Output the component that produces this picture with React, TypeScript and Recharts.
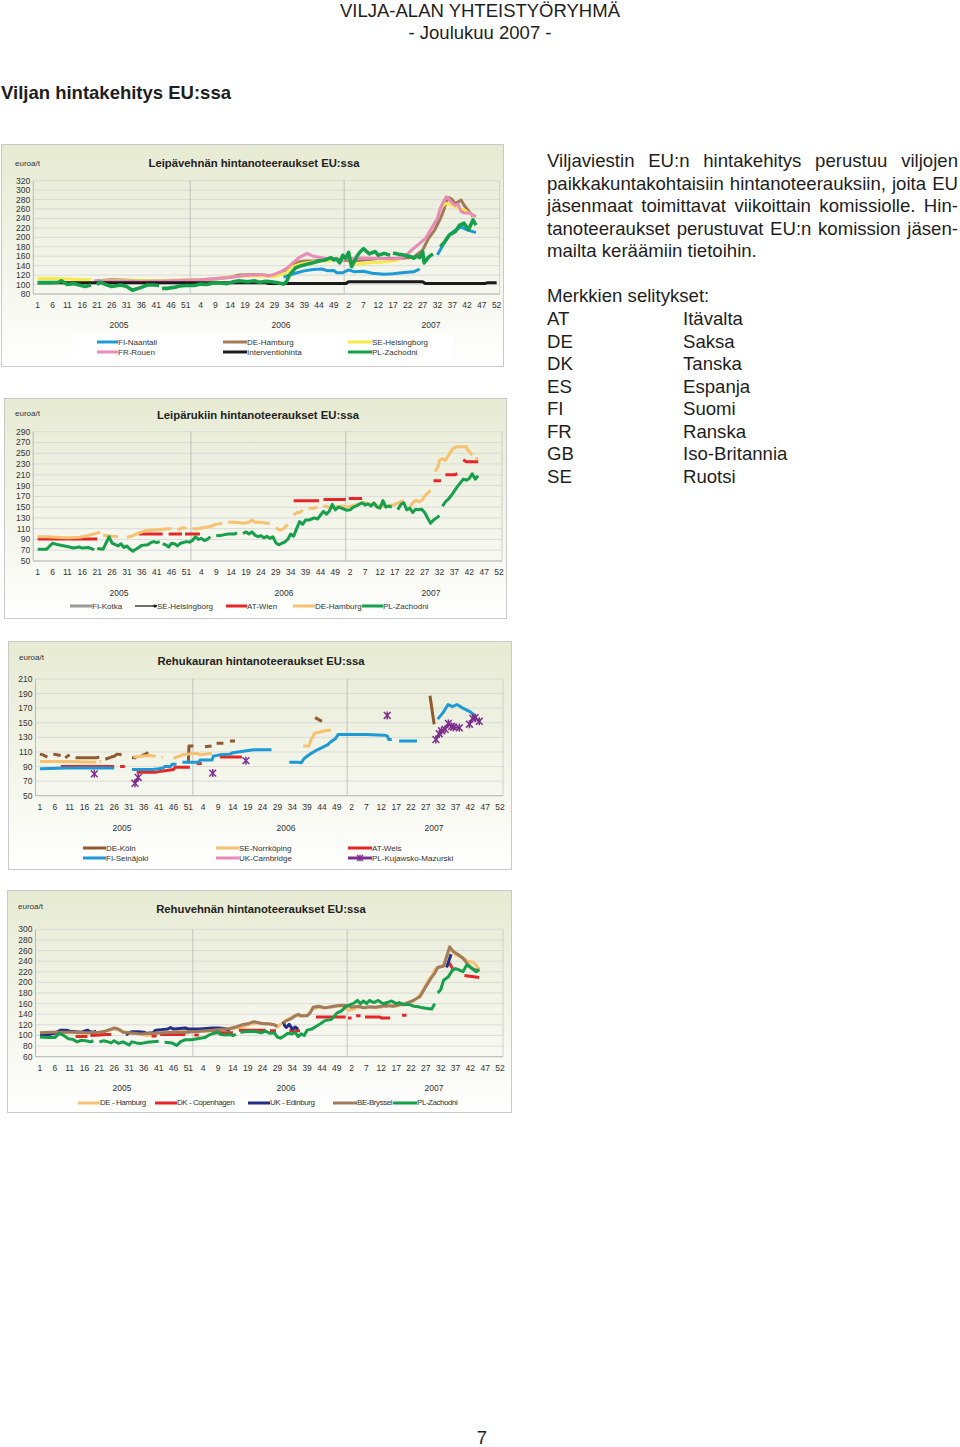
import React from "react";
import { LineChart, Line, XAxis, YAxis, CartesianGrid, ReferenceLine } from "recharts";

type Pt = [number, number | null];

// x = week index: 0 = week 1 / 2005 ... 155 = week 52 / 2007
const tickPos = [0, 5, 10, 15, 20, 25, 30, 35, 40, 45, 50, 55, 60, 65, 70, 75, 80, 85, 90, 95, 100, 105, 110, 115, 120, 125, 130, 135, 140, 145, 150, 155];
const weekLabels = [1, 6, 11, 16, 21, 26, 31, 36, 41, 46, 51, 4, 9, 14, 19, 24, 29, 34, 39, 44, 49, 2, 7, 12, 17, 22, 27, 32, 37, 42, 47, 52];
const yearLabels = ["2005", "2006", "2007"];
const yearBreaks = [51.5, 103.5];

const c1Ticks = [80, 100, 120, 140, 160, 180, 200, 220, 240, 260, 280, 300, 320];
const c2Ticks = [50, 70, 90, 110, 130, 150, 170, 190, 210, 230, 250, 270, 290];
const c3Ticks = [50, 70, 90, 110, 130, 150, 170, 190, 210];
const c4Ticks = [60, 80, 100, 120, 140, 160, 180, 200, 220, 240, 260, 280, 300];

// --- Leipävehnä ---
const c1Naantali: Pt[] = [[83, 116], [85, 120], [87, 124], [90, 129], [93, 132], [96, 133], [98, 129], [100, 130], [101, 125], [103, 125], [105, 131], [107, 127], [110, 128], [113, 124], [117, 122], [120, 123], [123, 125], [127, 127], [129, 133], [130, null], [135, 163], [137, 185], [139, 205], [141, 215], [143, 222], [145, 216], [147, 212], [148, 210]];
const c1Hamburg: Pt[] = [[20, 108], [25, 110], [30, 109], [35, 108], [40, 108], [45, 108], [50, 109], [55, 110], [60, 112], [65, 116], [68, 120], [72, 121], [76, 120], [80, 118], [82, 122], [84, 128], [86, 140], [88, 148], [90, 150], [93, 150], [96, 152], [100, 155], [103, 152], [106, 150], [110, 152], [115, 155], [120, 155], [124, 156], [127, 158], [130, 173], [132, 198], [134, 215], [136, 240], [137, 255], [138, 275], [139, 284], [140, 280], [141, 272], [142, 275], [143, 279], [144, 268], [145, 260], [147, 244]];
const c1Helsingborg: Pt[] = [[0, 113], [5, 113], [10, 112], [15, 110], [18, 110], [19, null], [21, 108], [30, 108], [40, 108], [50, 110], [55, 110], [60, 113], [65, 116], [70, 118], [75, 118], [80, 117], [84, 125], [86, 138], [88, 142], [90, 145], [93, 148], [96, 150], [99, 150], [100, null], [105, 148], [108, 143], [112, 146], [116, 147], [120, 150], [122, 152], [123, null], [136, 262], [137, 268], [138, 272], [140, 268], [142, 262], [144, 258], [146, 250], [148, 244]];
const c1Rouen: Pt[] = [[19, 108], [25, 107], [30, 107], [35, 106], [40, 107], [45, 108], [50, 109], [55, 110], [60, 113], [65, 115], [70, 119], [73, 120], [76, 121], [78, 118], [80, 122], [82, 127], [84, 134], [86, 145], [88, 156], [90, 163], [91, 166], [93, 160], [95, 158], [97, 156], [100, 154], [102, 152], [105, 155], [110, 156], [115, 155], [120, 154], [123, 157], [125, 165], [127, 177], [129, 187], [131, 198], [133, 219], [135, 240], [136, 262], [137, 275], [138, 286], [139, 280], [140, 272], [141, 268], [142, 270], [143, 255], [144, 252], [146, 251], [148, 244]];
const c1Intervention: Pt[] = [[0, 104], [77, 104], [78, 102], [104, 102], [105, 106], [130, 106], [131, 102], [151, 102], [152, 104], [155, 104]];
const c1Zachodni: Pt[] = [[0, 104], [4, 104], [7, 105], [8, 108], [10, 100], [12, 102], [14, 99], [16, 96], [18, 99], [19, null], [20, 100], [21, 105], [23, 100], [25, 96], [28, 99], [30, 96], [32, 88], [33, 90], [35, 94], [37, 99], [39, 99], [41, 98], [41.5, null], [42, 92], [44, 92], [46, 94], [48, 97], [50, 98], [53, 98], [55, 101], [57, 100], [59, 103], [61, 104], [64, 102], [66, 106], [68, 108], [71, 106], [73, 108], [75, 105], [77, 107], [79, 106], [81, 104], [83, 101], [84, 106], [85, 120], [87, 135], [89, 140], [91, 143], [93, 146], [95, 150], [97, 152], [99, 157], [100, 152], [101, 154], [102, 146], [103, 162], [104, 156], [105, 168], [106, 138], [108, 162], [109, 170], [110, 176], [112, 165], [114, 170], [115, 162], [117, 166], [119, 162], [119.5, null], [120, 167], [122, 164], [124, 162], [126, 159], [127, 156], [128, 160], [129, 157], [130, 170], [130.5, 146], [132, 158], [133.5, 165], [134, null], [136, 180], [137.5, 191], [139, 205], [141, 212], [142.5, 226], [144, 230], [145.5, 216], [147, 237], [148, 226]];

// --- Leipäruis ---
const c2Wien: Pt[] = [[0, 91], [20, 91], [21, null], [34, 100], [42, 100], [42.5, null], [44, 100], [48.5, 100], [49, null], [49.5, 100], [54.5, 100], [55, null], [86, 162], [94.5, 162], [95, null], [96, 164], [103.5, 164], [104, null], [104.5, 166], [109, 166], [110, null], [133, 199], [135.5, 199], [136, null], [137, 210], [140, 210], [141, 212], [141.5, null], [143, 238], [144, 234], [148, 234]];
const c2Hamburg: Pt[] = [[0, 95], [3, 95], [6, 94], [10, 93], [14, 94], [16, 96], [18, 99], [20, 102], [21, 103], [21.5, null], [22, 98], [25, 96], [27, 95], [27.5, null], [30, 94], [32, 97], [34, 102], [36, 106], [38, 107], [40, 108], [42, 109], [44, 110], [45, 110], [45.5, null], [47, 108], [49, 112], [50, 110], [50.5, null], [52, 110], [54, 110], [56, 112], [58, 114], [60, 118], [62, 120], [62.5, null], [64, 122], [66, 122], [68, 121], [69, 120], [71, 122], [72, 126], [73, 122], [75, 122], [77, 120], [78, 120], [78.5, null], [80, 112], [81, 108], [82, 108], [83, 112], [84, 118], [84.5, null], [86, 135], [87, 140], [88, 140], [89, 145], [89.5, null], [91, 148], [93, 148], [94, 150], [94.5, null], [96, 152], [98, 150], [100, 150], [102, 152], [104, 150], [106, 153], [108, 156], [110, 158], [112, 155], [114, 153], [116, 152], [118, 152], [120, 155], [122, 160], [123, 162], [123.5, null], [125, 150], [126, 158], [127, 163], [128, 160], [129, 162], [130, 170], [131, 176], [132, 181], [132.5, null], [133.5, 216], [134.5, 225], [135, 237], [136, 240], [137, 237], [138.5, 250], [139.5, 259], [141, 262], [144, 262], [144.5, 256], [146, 247], [146.5, null], [147, 240], [148, 240]];
const c2Zachodni: Pt[] = [[0, 72], [3, 72], [5, 83], [7, 80], [9, 78], [10, 77], [12, 74], [14, 76], [15, 74], [17, 75], [19, 71], [19.5, null], [20, 73], [22, 72], [24, 95], [25, 83], [27, 78], [28, 82], [29, 75], [30, 78], [31, 72], [32, 68], [33, 72], [35, 79], [37, 80], [38, 84], [39, 86], [40, 84], [41, 86], [41.5, null], [42, 82], [43, 80], [44, 76], [45, 83], [46, 82], [47, 78], [48, 83], [50, 86], [51, 85], [52, 88], [53, 95], [54, 90], [55, 92], [56, 88], [57, 90], [58, 95], [58.5, null], [60, 97], [62, 98], [64, 100], [66, 100], [67, 102], [67.5, null], [69, 101], [70, 104], [71, 100], [72, 104], [73, 98], [74, 95], [75, 97], [76, 93], [77, 96], [78, 92], [79, 95], [80, 84], [81, 80], [82, 83], [83, 85], [84, 90], [85, 100], [86, 96], [87, 110], [88, 123], [89, 118], [90, 126], [91, 126], [92, 128], [93, 130], [94, 128], [95, 135], [96, 142], [97, 137], [98, 143], [99, 155], [100, 145], [101, 150], [102, 148], [103, 146], [104, 144], [105, 145], [106, 150], [107, 152], [108, 155], [109, 158], [110, 154], [111, 156], [112, 152], [113, 158], [114, 150], [115, 148], [116, 162], [117, 150], [118, 152], [119, 150], [119.5, null], [121, 145], [122, 155], [123, 158], [124, 145], [125, 148], [126, 140], [127, 146], [128, 145], [129, 146], [130, 140], [131, 130], [132, 120], [133, 126], [134, 130], [135, 134], [135.5, null], [136, 152], [137, 160], [138, 165], [139, 172], [140, 180], [141, 188], [142, 195], [143, 202], [144, 200], [145, 203], [146, 212], [147, 202], [148, 208]];

// --- Rehukaura ---
const c3Koln: Pt[] = [[0, 107], [1, 106], [2.5, 103], [3, null], [4.5, 107], [7, 105], [7.5, null], [8.5, 102], [10, 106], [10.5, null], [12, 102], [19, 102], [20, 103], [20.5, null], [22, 100], [24, 103], [25, 104], [26, 107], [27.5, 106], [28, null], [31, 102], [32.5, 102], [33, null], [34.3, 105], [35.5, 107], [36.5, 109], [37, null], [50, 96], [50.2, 118], [51.7, 118], [52, null], [55.6, 117], [57.8, 118], [58, null], [59.5, 122], [61.8, 122], [62, null], [64, 125], [65.7, 125], [66, null], [92.7, 157], [95, 152], [95.5, null], [131.4, 187], [132.8, 148]];
const c3Norrkoping: Pt[] = [[0, 97], [10, 97], [19, 96], [19.5, null], [20, 97], [20.6, 97], [21, null], [31.5, 103], [34, 104], [37, 105], [39, 104], [39.5, null], [41, 103], [41.4, 103], [41.8, null], [45, 101], [46, 103], [47, 104], [48, 106], [50, 107], [51, 108], [53, 108], [54, 106], [56, 107], [57, 108], [58, 108], [58.5, null], [60.5, 107], [63, 107], [63.5, null], [88.7, 118], [90.5, 118], [91.5, 128], [92.5, 136], [94, 137], [96, 139], [98, 140]];
const c3Wels: Pt[] = [[7, 90], [25, 90], [25.5, null], [27, 90], [28.6, 90], [29, null], [32.6, 82], [39, 82], [40, 83], [41.5, 84], [45, 86], [45.5, 89], [50.5, 89], [51, null], [52.8, 94], [54.5, 94], [55, null], [60.6, 103], [68, 103]];
const c3Seinajoki: Pt[] = [[0, 87], [9, 88], [25, 88], [25.5, null], [31, 86], [38, 86], [40, 87], [41.5, 88], [42, 90], [44, 90], [44.5, 93], [46, 93], [46.5, null], [48, 96], [53.5, 96], [54, 99], [58, 99], [58.4, 104], [60.6, 106], [64, 107], [65, 109], [68.5, 111], [72, 113], [78, 113], [78.5, null], [84, 96], [87, 96], [88, 95], [89, 101], [90, 104], [91, 107], [93, 112], [95, 116], [97, 120], [98, 124], [99.5, 128], [100.5, 134], [110, 134], [116, 133], [117, 132], [117.5, 127], [118.5, 127], [119, null], [121, 125], [127, 125], [127.5, null], [134, 155], [136, 165], [137.5, 175], [139, 172], [140.5, 175], [142.5, 170], [145, 165], [147, 158]];
const c3Cambridge: Pt[] = [];
const c3Kujawsko: Pt[] = [[18.3, 80], [18.5, null], [32, 67], [33.1, 75], [33.5, null], [58.2, 81], [58.5, null], [69.4, 98], [69.6, null], [117, 160], [117.2, null], [133.4, 127], [134.5, 135], [135.3, 139], [136.5, 141], [137.6, 149], [138.7, 145], [139.3, 144], [141.3, 143], [141.6, null], [144.7, 148], [145.8, 156], [146.6, 157], [148, 152]];

// --- Rehuvehnä ---
const c4Hamburg: Pt[] = [[0, 105], [5, 106], [10, 106], [15, 104], [20, 106], [23, 110], [25, 112], [27, 110], [30, 104], [33, 104], [36, 100], [38, 102], [40, 104], [44, 106], [48, 108], [52, 108], [56, 108], [60, 110], [64, 112], [68, 116], [70, 120], [73, 124], [76, 122], [79, 120], [80, 116], [82, 125], [84, 132], [86, 138], [88, 136], [90, 138], [92, 150], [94, 153], [96, 152], [98, 153], [100, 155], [102, 156], [104, 147], [106, 150], [108, 155], [110, 152], [112, 153], [114, 152], [116, 155], [118, 158], [120, 155], [122, 158], [124, 160], [126, 165], [128, 176], [130, 195], [131, 205], [132, 212], [133, 224], [134, 228], [136, 232], [137, 250], [138, 262], [139, 258], [140, 252], [141, 250], [142, 248], [143, 245], [144, 240], [146, 238], [147, 232], [148, 224]];
const c4Copenhagen: Pt[] = [[12, 98], [16, 98], [16.5, null], [17, 100], [20, 101], [22, 102], [24, 102], [24.5, null], [37.6, 99], [39.3, 99], [39.6, null], [40.5, 102], [49, 102], [49.5, null], [52, 101], [53.5, 101], [54, null], [58, 105], [65, 105], [65.5, null], [67, 110], [76, 110], [76.5, null], [77.5, 109], [79.5, 109], [80, null], [84, 109], [87.6, 109], [88, null], [93, 135], [103, 135], [103.5, null], [103.8, 133], [105, 133], [105.5, null], [106.5, 137], [108, 137], [108.5, null], [109.5, 135], [114.5, 135], [115, 133], [118, 133], [118.5, null], [122, 138], [123.5, 138], [124, null], [137.5, 240], [139, 226], [139.5, null], [143, 213], [148, 209]];
const c4Edinburg: Pt[] = [[0, 102], [3, 102], [5, 104], [7, 110], [9, 110], [10, 108], [12, 107], [14, 106], [15, 108], [16, 110], [17, 107], [18, 106], [19, 108], [20, null], [29, 101], [30, 105], [31, 107], [33, 107], [35, 106], [36, 104], [38, 105], [39, 110], [41, 111], [43, 112], [44, 115], [45, 112], [47, 113], [49, 114], [50, 112], [52, 112], [54, 112], [56, 113], [58, 114], [60, 114], [62, 113], [64, 110], [64.5, null], [82, 126], [82.5, 118], [83, 115], [84, 121], [85, 112], [86, 116], [87, 112], [87.5, null], [116, 158], [117, 155], [117.5, null], [137, 228], [138.5, 253]];
const c4Bryssel: Pt[] = [[0, 105], [4, 106], [8, 106], [12, 106], [16, 105], [20, 106], [22, 108], [24, 112], [25, 114], [26, 113], [27, 110], [28, 106], [30, 105], [34, 103], [38, 104], [42, 105], [46, 106], [50, 106], [54, 108], [58, 110], [62, 112], [64, 113], [66, 116], [68, 120], [70, 122], [72, 126], [73, 125], [75, 122], [77, 122], [79, 120], [80, 117], [81, null], [82, 124], [83, 128], [84, 130], [85, 133], [86, 137], [87, 140], [88, 137], [90, 137], [91, 142], [92, 153], [94, 155], [96, 152], [98, 154], [100, 156], [102, 157], [104, 156], [105, 153], [107, 155], [109, 152], [111, 154], [113, 153], [115, 155], [117, 156], [119, 155], [121, 158], [123, 160], [125, 164], [128, 173], [130, 192], [132, 210], [133, 217], [134, 228], [136, 231], [137, 248], [138, 267], [139.3, 258], [141, 252], [142.6, 245], [144.3, 233], [146, 225], [148, 222]];
const c4Zachodni: Pt[] = [[0, 97], [3, 96], [5, 96], [6.5, 104], [8, 100], [9.5, 94], [11, 93], [12.5, 88], [14, 91], [15.5, 90], [17, 88], [18, 90], [18.5, null], [20, 88], [21.5, 90], [23, 88], [24, 86], [25, 90], [26.5, 85], [28, 88], [29, 85], [30, 82], [31, 88], [32.5, 86], [34, 85], [36, 87], [38, 88], [40, 89], [40.5, null], [42, 87], [44.5, 86], [46, 81], [47.5, 89], [49, 92], [51, 92], [53, 94], [55.5, 96], [57, 101], [58.5, 104], [60, 106], [61, 102], [62.5, 101], [64, 102], [65, 100], [66, 102], [66.5, null], [67.5, 106], [69, 107], [71, 108], [73, 107], [74.5, 105], [76, 108], [77.5, 104], [79, 105], [80, 97], [81, 95], [82, 98], [83.5, 104], [85, 103], [86, 106], [87, 98], [88, 103], [89, 100], [90, 110], [91.5, 112], [93, 117], [94.5, 122], [96, 128], [98, 130], [99, 135], [100, 142], [101.5, 146], [103, 154], [104.5, 158], [105.5, 160], [107, 166], [108, 160], [109, 165], [110, 160], [111, 166], [112.5, 162], [114, 166], [115.5, 160], [117, 162], [118.5, 165], [120, 160], [121, 162], [122.5, 158], [124, 159], [126, 155], [127.5, 154], [129, 152], [130.5, 151], [132, 150], [133, 160], [133.5, null], [134, 180], [135, 186], [136, 204], [137.5, 210], [139, 223], [140, 226], [141, 224], [142.5, 220], [143.8, 233], [145.5, 226], [147, 220], [148, 224]];

const FONT = '"Liberation Sans", Arial, Helvetica, sans-serif';

interface SeriesDef {
    name: string;
    color: string;
    width: number;
    pts: Pt[];
    marker?: "star" | "dot";
    lx: number; // legend line start, page x
    ly: number; // legend row centre, page y
    llen: number;
}

interface ChartDef {
    box: [number, number, number, number];
    margin: { top: number; right: number; bottom: number; left: number };
    yTicks: number[];
    title: string;
    titleAt: [number, number];
    unitAt: [number, number];
    yearX: number[];
    yearY: number;
    series: SeriesDef[];
    legendBox?: [number, number, number, number];
    legendSpacing?: number;
}

const GREEN = "#17a04b";
const BLUE = "#1d9ad6";
const RED = "#e42627";
const ORANGE = "#f6c170";
const PINK = "#e98bb8";
const PURPLE = "#7d2f8e";

const charts: ChartDef[] = [
    {
        box: [1, 144, 503, 223],
        margin: { top: 36.7, right: 4.4, bottom: 53, left: 6.3 },
        yTicks: c1Ticks,
        title: "Leipävehnän hintanoteeraukset EU:ssa",
        titleAt: [253, 163],
        unitAt: [14, 163],
        yearX: [118, 280, 430],
        yearY: 324,
        legendBox: [73, 335, 380, 26],
        series: [
            { name: "FI-Naantali", color: BLUE, width: 3, pts: c1Naantali, lx: 97, ly: 342, llen: 21 },
            { name: "DE-Hamburg", color: "#a27b55", width: 3, pts: c1Hamburg, lx: 223, ly: 342, llen: 24 },
            { name: "SE-Helsingborg", color: "#f7e94a", width: 3, pts: c1Helsingborg, lx: 348, ly: 342, llen: 24 },
            { name: "FR-Rouen", color: PINK, width: 3, pts: c1Rouen, lx: 97, ly: 352, llen: 21 },
            { name: "Interventiohinta", color: "#1a1a1a", width: 3, pts: c1Intervention, lx: 223, ly: 352, llen: 24 },
            { name: "PL-Zachodni", color: GREEN, width: 3.6, pts: c1Zachodni, lx: 348, ly: 352, llen: 24 },
        ],
    },
    {
        box: [4, 398, 503, 221],
        margin: { top: 33.7, right: 5, bottom: 38, left: 3.2 },
        yTicks: c2Ticks,
        title: "Leipärukiin hintanoteeraukset EU:ssa",
        titleAt: [257, 415],
        unitAt: [14, 413],
        yearX: [118, 283, 430],
        yearY: 592,
        series: [
            { name: "FI-Kotka", color: "#9a9a9a", width: 3, pts: [], lx: 70, ly: 606, llen: 22 },
            { name: "SE-Helsingborg", color: "#111", width: 1.2, pts: [], marker: "dot", lx: 135, ly: 606, llen: 22 },
            { name: "AT-Wien", color: RED, width: 3, pts: c2Wien, lx: 226, ly: 606, llen: 21 },
            { name: "DE-Hamburg", color: ORANGE, width: 3, pts: c2Hamburg, lx: 293, ly: 606, llen: 22 },
            { name: "PL-Zachodni", color: GREEN, width: 3, pts: c2Zachodni, lx: 362, ly: 606, llen: 21 },
        ],
    },
    {
        box: [8, 641, 504, 229],
        margin: { top: 38, right: 9, bottom: 54.3, left: 1.5 },
        yTicks: c3Ticks,
        title: "Rehukauran hintanoteeraukset EU:ssa",
        titleAt: [260, 661],
        unitAt: [18, 657],
        yearX: [121, 285, 433],
        yearY: 826.7,
        series: [
            { name: "DE-Köln", color: "#8f5b2e", width: 3, pts: c3Koln, lx: 83, ly: 848, llen: 23 },
            { name: "SE-Norrköping", color: ORANGE, width: 3, pts: c3Norrkoping, lx: 216, ly: 848, llen: 23 },
            { name: "AT-Wels", color: RED, width: 3, pts: c3Wels, lx: 348, ly: 848, llen: 24 },
            { name: "FI-Seinäjoki", color: BLUE, width: 3, pts: c3Seinajoki, lx: 83, ly: 858, llen: 23 },
            { name: "UK-Cambridge", color: PINK, width: 3, pts: c3Cambridge, lx: 216, ly: 858, llen: 23 },
            { name: "PL-Kujawsko-Mazurski", color: PURPLE, width: 2.4, pts: c3Kujawsko, marker: "star", lx: 348, ly: 858, llen: 24 },
        ],
    },
    {
        box: [7, 890, 505, 223],
        margin: { top: 39.3, right: 9, bottom: 36.3, left: 2.5 },
        yTicks: c4Ticks,
        title: "Rehuvehnän hintanoteeraukset EU:ssa",
        titleAt: [260, 909],
        unitAt: [17, 906],
        yearX: [121, 285, 433],
        yearY: 1087,
        legendSpacing: -0.45,
        series: [
            { name: "DE - Hamburg", color: ORANGE, width: 3, pts: c4Hamburg, lx: 78, ly: 1102.7, llen: 22 },
            { name: "DK - Copenhagen", color: RED, width: 3, pts: c4Copenhagen, lx: 155, ly: 1102.7, llen: 22 },
            { name: "UK - Edinburg", color: "#232f86", width: 3, pts: c4Edinburg, lx: 248, ly: 1102.7, llen: 22 },
            { name: "BE-Bryssel", color: "#a07c5c", width: 3, pts: c4Bryssel, lx: 333, ly: 1102.7, llen: 24 },
            { name: "PL-Zachodni", color: GREEN, width: 3, pts: c4Zachodni, lx: 393, ly: 1102.7, llen: 24 },
        ],
    },
];

const introLines = [
    "Viljaviestin EU:n hintakehitys perustuu viljojen",
    "paikkakuntakohtaisiin hintanoteerauksiin, joita EU",
    "jäsenmaat toimittavat viikoittain komissiolle. Hin-",
    "tanoteeraukset perustuvat EU:n komission jäsen-",
    "mailta keräämiin tietoihin.",
];

const codeRows: [string, string][] = [
    ["AT", "Itävalta"],
    ["DE", "Saksa"],
    ["DK", "Tanska"],
    ["ES", "Espanja"],
    ["FI", "Suomi"],
    ["FR", "Ranska"],
    ["GB", "Iso-Britannia"],
    ["SE", "Ruotsi"],
];

const StarDot = (props: any) => {
    const { cx, cy, payload, index } = props;
    if (cx == null || cy == null || payload == null || payload.y == null) return <g key={`s-${index}`} />;
    const r = 3.4;
    return (
        <g key={`s-${index}`} stroke={PURPLE} strokeWidth={1.5}>
            <line x1={cx - r} y1={cy - r} x2={cx + r} y2={cy + r} />
            <line x1={cx - r} y1={cy + r} x2={cx + r} y2={cy - r} />
            <line x1={cx} y1={cy - r - 0.6} x2={cx} y2={cy + r + 0.6} />
        </g>
    );
};

const Centered = ({ x, y, children, style }: { x: number; y: number; children: React.ReactNode; style?: React.CSSProperties }) => (
    <div
        style={{
            position: "absolute",
            left: x,
            top: y,
            transform: "translate(-50%, -50%)",
            whiteSpace: "nowrap",
            lineHeight: 1,
            ...style,
        }}
    >
        {children}
    </div>
);

const LegendItem = ({ s, ox, oy, spacing }: { s: SeriesDef; ox: number; oy: number; spacing: number }) => (
    <div
        style={{
            position: "absolute",
            left: s.lx - ox,
            top: s.ly - oy - 5,
            height: 10,
            display: "flex",
            alignItems: "center",
            whiteSpace: "nowrap",
            fontSize: 8,
            letterSpacing: spacing,
            color: "#333",
        }}
    >
        <svg width={s.llen} height={10} style={{ display: "block" }}>
            <line x1={0} y1={5} x2={s.llen} y2={5} stroke={s.color} strokeWidth={s.marker === "dot" ? 1.2 : 3} />
            {s.marker === "dot" && <circle cx={s.llen - 2} cy={5} r={1.6} fill={s.color} />}
            {s.marker === "star" && (
                <g stroke={PURPLE} strokeWidth={1.4}>
                    <line x1={s.llen / 2 - 3} y1={2} x2={s.llen / 2 + 3} y2={8} />
                    <line x1={s.llen / 2 - 3} y1={8} x2={s.llen / 2 + 3} y2={2} />
                    <line x1={s.llen / 2} y1={1.5} x2={s.llen / 2} y2={8.5} />
                </g>
            )}
        </svg>
        <span>{s.name}</span>
    </div>
);

const PriceChart = ({ d }: { d: ChartDef }) => {
    const [bx, by, bw, bh] = d.box;
    const tick = { fontSize: 8.5, fill: "#333", fontFamily: FONT };
    return (
        <div
            style={{
                position: "absolute",
                left: bx,
                top: by,
                width: bw,
                height: bh,
                boxSizing: "border-box",
                border: "1px solid #c9c9c9",
                background: "linear-gradient(to bottom, #e7ebd3 0%, #eef1e1 35%, #f7f8f0 70%, #ffffff 100%)",
            }}
        >
            {d.legendBox && (
                <div
                    style={{
                        position: "absolute",
                        left: d.legendBox[0] - bx - 1,
                        top: d.legendBox[1] - by - 1,
                        width: d.legendBox[2],
                        height: d.legendBox[3],
                        background: "#ffffff",
                    }}
                />
            )}
            <div style={{ position: "absolute", left: -1, top: -1 }}>
                <LineChart width={bw} height={bh} margin={d.margin}>
                    <CartesianGrid vertical={false} stroke="#d4d4d4" strokeWidth={0.8} />
                    <XAxis
                        type="number"
                        dataKey="x"
                        domain={[-1.5, 156]}
                        ticks={tickPos}
                        interval={0}
                        tickFormatter={(v: number) => String(weekLabels[tickPos.indexOf(v)] ?? "")}
                        tickSize={0}
                        tickMargin={8}
                        height={20}
                        stroke="#b8b8b8"
                        tick={tick}
                        allowDataOverflow
                    />
                    <YAxis
                        type="number"
                        domain={[d.yTicks[0], d.yTicks[d.yTicks.length - 1]]}
                        ticks={d.yTicks}
                        interval={0}
                        width={26}
                        tickSize={0}
                        tickMargin={3}
                        stroke="#b8b8b8"
                        tick={tick}
                        allowDataOverflow
                    />
                    {yearBreaks.map((x) => (
                        <ReferenceLine key={x} x={x} stroke="#b8b8b8" strokeWidth={0.8} />
                    ))}
                    <ReferenceLine x={156} stroke="#c8c8c8" strokeWidth={0.8} />
                    {d.series
                        .filter((s) => s.pts.length > 0)
                        .map((s) => (
                            <Line
                                key={s.name}
                                data={s.pts.map(([x, y]) => ({ x, y }))}
                                dataKey="y"
                                name={s.name}
                                type="linear"
                                stroke={s.color}
                                strokeWidth={s.width}
                                strokeLinejoin="round"
                                dot={s.marker === "star" ? (p: any) => <StarDot {...p} key={`s-${p.index}`} /> : false}
                                activeDot={false}
                                isAnimationActive={false}
                            />
                        ))}
                </LineChart>
            </div>
            <Centered x={d.titleAt[0] - bx} y={d.titleAt[1] - by} style={{ fontSize: 11.3, fontWeight: "bold", color: "#222" }}>
                {d.title}
            </Centered>
            <div
                style={{
                    position: "absolute",
                    left: d.unitAt[0] - bx,
                    top: d.unitAt[1] - by - 5,
                    fontSize: 8,
                    lineHeight: "10px",
                    color: "#333",
                }}
            >
                euroa/t
            </div>
            {yearLabels.map((yl, i) => (
                <Centered key={yl} x={d.yearX[i] - bx} y={d.yearY - by} style={{ fontSize: 8.5, color: "#333" }}>
                    {yl}
                </Centered>
            ))}
            {d.series.map((s) => (
                <LegendItem key={s.name} s={s} ox={bx + 1} oy={by + 1} spacing={d.legendSpacing ?? 0} />
            ))}
        </div>
    );
};

export default function App() {
    return (
        <div
            style={{
                position: "absolute",
                left: 0,
                top: 0,
                width: 960,
                height: 1447,
                overflow: "hidden",
                background: "#ffffff",
                fontFamily: FONT,
                color: "#1e1e1e",
            }}
        >
            <Centered x={480} y={11} style={{ fontSize: 18.5 }}>
                VILJA-ALAN YHTEISTYÖRYHMÄ
            </Centered>
            <Centered x={480} y={33} style={{ fontSize: 18.5 }}>
                - Joulukuu 2007 -
            </Centered>
            <div style={{ position: "absolute", left: 1, top: 82, fontSize: 18.5, fontWeight: "bold", lineHeight: "22px" }}>
                Viljan hintakehitys EU:ssa
            </div>

            {charts.map((c, i) => (
                <PriceChart key={i} d={c} />
            ))}

            {introLines.map((line, i) => {
                const last = i === introLines.length - 1;
                return (
                    <div
                        key={i}
                        style={{
                            position: "absolute",
                            left: 547,
                            top: 161 + i * 22.5 - 11,
                            width: last ? undefined : 411,
                            height: 22,
                            lineHeight: "22px",
                            fontSize: 18.6,
                            whiteSpace: "nowrap",
                            display: "flex",
                            justifyContent: last ? "flex-start" : "space-between",
                        }}
                    >
                        {last
                            ? line
                            : line.split(" ").map((w, j) => <span key={j}>{w}</span>)}
                    </div>
                );
            })}
            <div style={{ position: "absolute", left: 547, top: 296 - 11, fontSize: 18.6, lineHeight: "22px", whiteSpace: "nowrap" }}>
                Merkkien selitykset:
            </div>
            {codeRows.map(([code, country], i) => (
                <React.Fragment key={code}>
                    <div style={{ position: "absolute", left: 547, top: 319 + i * 22.5 - 11, fontSize: 18.6, lineHeight: "22px" }}>{code}</div>
                    <div style={{ position: "absolute", left: 683, top: 319 + i * 22.5 - 11, fontSize: 18.6, lineHeight: "22px" }}>{country}</div>
                </React.Fragment>
            ))}

            <Centered x={482} y={1438} style={{ fontSize: 18.5 }}>
                7
            </Centered>
        </div>
    );
}
